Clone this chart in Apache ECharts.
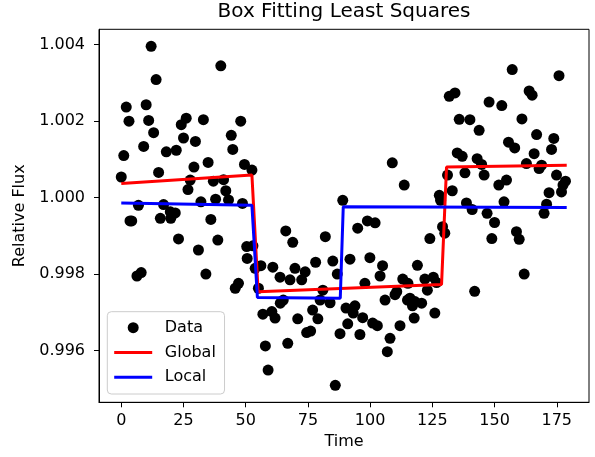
<!DOCTYPE html>
<html>
<head>
<meta charset="utf-8">
<script src="https://cdn.jsdelivr.net/npm/echarts@6/dist/echarts.min.js"></script>
<style>
  html, body { margin: 0; padding: 0; background: #fff; }
  #chart { width: 595px; height: 457px; }
</style>
</head>
<body>
<div id="chart"></div>
<script>
// 观测数据（时间, 相对通量）
var time = [0, 1, 2, 3.1, 3.5, 4.2, 6.3, 6.9, 8, 9, 10, 11, 12, 13, 14, 15, 15.7, 17, 18.1, 19.7,
    19.9, 21.7, 22.1, 23, 24.1, 25, 26.1, 26.8, 27.7, 29.2, 29.8, 31, 32, 33, 34, 34.9, 36, 37, 37.9, 38.8,
    40, 41.1, 42, 43.1, 44.2, 44.8, 45.8, 47.1, 48, 48.7, 49.5, 50.4, 50.6, 52.5, 52.9, 53.8, 55.1, 56.1, 56.9, 57.9,
    59, 60.5, 60.9, 61.8, 63.8, 63.9, 65.1, 66.1, 66.9, 67.8, 68.9, 69.8, 70.9, 72.5, 73.9, 74.5, 76.1, 76.9, 78.1, 79,
    79.9, 81, 82, 83.9, 85, 86, 86.8, 87.9, 89, 90.3, 91, 91.9, 93.2, 93.9, 95, 95.9, 97, 97.9, 98.9, 99.9,
    101, 102, 102.9, 104, 105, 106, 106.9, 108, 108.9, 110, 110.7, 112, 113.1, 113.7, 115, 115.2, 116, 117, 117.7, 118,
    119, 120.7, 122, 123, 124, 125.4, 126, 126.7, 127.8, 128.3, 129.1, 130, 131.1, 131.8, 133, 134.1, 135, 135.8, 137, 138.1,
    138.7, 140.1, 141, 142, 143, 143.8, 144.8, 145.8, 147, 147.8, 148.9, 150, 151.7, 152.9, 153.8, 154.8, 155.6, 157.1, 158.1, 158.8,
    159.9, 161, 161.9, 162.8, 163.9, 165.1, 165.9, 166.9, 167.9, 168.9, 169.9, 170.9, 171.9, 172.9, 173.8, 174.9, 175.9, 176.9, 177.5, 178.5];
var flux = [1.00054, 1.00110, 1.00237, 1.00200, 0.99939, 0.99939, 0.99795, 0.99980, 0.99804, 1.00134, 1.00243, 1.00202, 1.00396, 1.00170, 1.00309, 1.00066, 0.99946, 0.99982, 1.00120, 0.99963,
    0.99946, 0.99960, 1.00124, 0.99892, 1.00191, 1.00156, 1.00208, 1.00021, 1.00046, 1.00080, 1.00147, 0.99863, 0.99989, 1.00204, 0.99800, 1.00092, 0.99943, 1.00043, 0.99996, 0.99889,
    1.00345, 1.00047, 1.00018, 0.99994, 1.00163, 1.00126, 0.99763, 0.99776, 1.00200, 0.99985, 1.00087, 0.99872, 0.99841, 1.00072, 0.99874, 0.99815, 0.99763, 0.99822, 0.99695, 0.99612,
    0.99549, 0.99702, 0.99818, 0.99685, 0.99792, 0.99724, 0.99732, 0.99913, 0.99619, 0.99785, 0.99883, 0.99815, 0.99683, 0.99785, 0.99806, 0.99647, 0.99651, 0.99706, 0.99831, 0.99683,
    0.99732, 0.99758, 0.99898, 0.99725, 0.99834, 0.99509, 0.99800, 0.99644, 0.99993, 0.99711, 0.99670, 0.99839, 0.99698, 0.99717, 0.99920, 0.99642, 0.99686, 0.99776, 0.99939, 0.99843,
    0.99672, 0.99934, 0.99665, 0.99795, 0.99822, 0.99732, 0.99597, 0.99632, 1.00091, 0.99746, 0.99754, 0.99665, 0.99787, 1.00033, 0.99732, 0.99776, 0.99737, 0.99717, 0.99685, 0.99728,
    0.99823, 0.99724, 0.99787, 0.99758, 0.99893, 0.99792, 0.99698, 0.99778, 1.00006, 0.99993, 0.99924, 0.99907, 1.00059, 1.00265, 1.00018, 1.00274, 1.00117, 1.00205, 1.00108, 1.00065,
    0.99986, 1.00204, 0.99969, 0.99755, 1.00102, 1.00176, 1.00087, 1.00059, 0.99959, 1.00250, 0.99893, 0.99935, 1.00033, 1.00241, 0.99989, 1.00046, 1.00145, 1.00335, 1.00130, 0.99911,
    0.99891, 1.00206, 0.99800, 1.00089, 1.00279, 1.00268, 1.00115, 1.00165, 1.00076, 1.00085, 0.99959, 0.99983, 1.00013, 1.00126, 1.00155, 1.00059, 1.00319, 1.00015, 1.00033, 1.00043];

// 全局拟合 / 局部拟合的箱形模型
var globalTime = [0, 52.5, 55, 128.7, 130.7, 179];
var globalFlux = [1.00037, 1.00059, 0.99754, 0.99773, 1.00080, 1.00085];
var localTime = [0, 52.5, 54.7, 88, 89.2, 179];
var localFlux = [0.99986, 0.99980, 0.99739, 0.99737, 0.99976, 0.99974];

// 刻度
var xTicks = [0, 25, 50, 75, 100, 125, 150, 175];
var yTicks = [0.996, 0.998, 1.000, 1.002, 1.004];

function pairs(xs, ys) {
    var out = [];
    for (var i = 0; i < xs.length; i++) {
        out.push([xs[i], ys[i]]);
    }
    return out;
}

var font = 'DejaVu Sans';
var myChart = echarts.init(document.getElementById('chart'), null, { renderer: 'canvas' });

var option = {
    animation: false,
    backgroundColor: '#fff',
    textStyle: { fontFamily: font },
    title: {
        text: 'Box Fitting Least Squares',
        left: 344,
        top: 2,
        padding: 0,
        textAlign: 'center',
        textStyle: { fontFamily: font, fontSize: 20, fontWeight: 'normal', color: '#000' }
    },
    legend: {
        orient: 'vertical',
        left: 107.3,
        top: 311.7,
        padding: [7, 8.7, 7.7, 5.4],
        itemWidth: 38,
        itemHeight: 11,
        itemGap: 6.8,
        borderColor: '#cccccc',
        borderWidth: 1,
        borderRadius: 4,
        backgroundColor: 'rgba(255,255,255,0.8)',
        textStyle: { fontFamily: font, fontSize: 16, lineHeight: 18, color: '#000', padding: [0, 0, 0, 7.6] },
        data: [
            'Data',
            { name: 'Global', itemStyle: { opacity: 0 }, lineStyle: { width: 3 } },
            { name: 'Local', itemStyle: { opacity: 0 }, lineStyle: { width: 3 } }
        ]
    },
    grid: {
        left: 99,
        right: 6,
        top: 29.3,
        bottom: 54.7,
        show: true,
        borderColor: '#000',
        borderWidth: 1,
        backgroundColor: '#fff'
    },
    xAxis: {
        type: 'value',
        min: -8.95,
        max: 187.95,
        name: 'Time',
        nameLocation: 'middle',
        nameGap: 32,
        nameTextStyle: { fontFamily: font, fontSize: 16, color: '#000' },
        axisLine: { show: true, onZero: false, lineStyle: { color: '#000', width: 1 } },
        axisTick: { show: true, length: 5, customValues: xTicks, lineStyle: { color: '#000', width: 1 } },
        axisLabel: { show: true, margin: 11, customValues: xTicks, fontFamily: font, fontSize: 16, color: '#000' },
        splitLine: { show: false }
    },
    yAxis: {
        type: 'value',
        min: 0.994646,
        max: 1.004404,
        name: 'Relative Flux',
        nameLocation: 'middle',
        nameGap: 69,
        nameTextStyle: { fontFamily: font, fontSize: 16, color: '#000' },
        axisLine: { show: true, onZero: false, lineStyle: { color: '#000', width: 1 } },
        axisTick: { show: true, length: 5, customValues: yTicks, lineStyle: { color: '#000', width: 1 } },
        axisLabel: {
            show: true, margin: 14, customValues: yTicks, fontFamily: font, fontSize: 16, color: '#000',
            formatter: function (v) { return v.toFixed(3); }
        },
        splitLine: { show: false }
    },
    series: [{
        name: 'Data',
        type: 'scatter',
        symbol: 'circle',
        symbolSize: 11,
        itemStyle: { color: '#000', opacity: 1 },
        data: pairs(time, flux)
    }, {
        name: 'Global',
        type: 'line',
        symbol: 'none',
        lineStyle: { color: '#ff0000', width: 3 },
        itemStyle: { color: '#ff0000' },
        data: pairs(globalTime, globalFlux)
    }, {
        name: 'Local',
        type: 'line',
        symbol: 'none',
        lineStyle: { color: '#0000ff', width: 3 },
        itemStyle: { color: '#0000ff' },
        data: pairs(localTime, localFlux)
    }]
};

myChart.setOption(option);
</script>
</body>
</html>
